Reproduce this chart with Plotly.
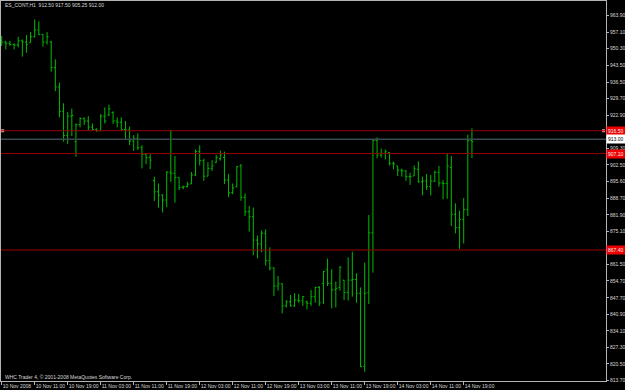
import plotly.graph_objects as go

# ---- data (ES_CONT, H1) ----
bar_index = list(range(115))
opens = [953.5, 953.0, 952.5, 952.0, 951.8, 953.5, 953.0, 952.7, 955.2, 958.0,
         956.2, 953.0, 953.0, 942.5, 934.5, 924.5, 914.5, 922.5, 912.0, 919.0,
         921.5, 920.5, 918.0, 917.0, 916.5, 922.5, 923.0, 924.0, 920.5, 920.0,
         917.0, 916.8, 912.3, 913.4, 909.5, 906.8, 905.4, 896.0, 891.4, 890.0,
         888.0, 899.5, 899.0, 897.3, 893.2, 893.5, 894.6, 898.3, 907.9, 904.2,
         897.8, 901.0, 903.5, 905.0, 905.5, 896.2, 891.0, 893.5, 902.0, 889.1,
         883.2, 881.1, 871.5, 869.9, 874.3, 863.0, 860.0, 852.6, 853.5, 844.4,
         846.1, 844.4, 846.8, 846.5, 846.1, 845.5, 848.2, 852.0, 853.7, 859.5,
         853.7, 851.0, 852.0, 855.0, 849.9, 855.0, 855.3, 849.6, 819.5, 849.9,
         874.5, 912.5, 906.5, 907.2, 907.5, 903.1, 902.0, 900.3, 900.0, 897.6,
         897.9, 900.6, 895.5, 895.8, 893.5, 895.8, 899.4, 895.0, 894.8, 901.4,
         882.1, 876.6, 880.0, 884.1, 912.5]
highs = [955.5, 953.5, 953.5, 952.5, 955.2, 954.1, 955.9, 957.1, 962.3, 961.5,
         956.3, 957.1, 953.5, 945.9, 936.3, 927.8, 924.2, 925.6, 919.5, 922.0,
         922.0, 922.5, 919.5, 917.5, 923.4, 926.1, 927.2, 924.5, 922.0, 922.0,
         920.5, 918.2, 914.7, 915.4, 910.6, 907.2, 906.8, 897.6, 894.8, 890.3,
         899.8, 916.8, 906.1, 897.3, 893.9, 895.5, 899.5, 908.8, 910.5, 905.0,
         903.6, 904.4, 906.6, 908.3, 907.9, 898.7, 894.8, 902.0, 902.8, 890.7,
         885.5, 884.9, 873.4, 875.5, 875.9, 868.5, 860.3, 856.7, 853.7, 846.8,
         848.9, 849.6, 849.3, 848.5, 846.6, 850.9, 852.3, 852.6, 858.9, 863.8,
         859.5, 854.4, 860.8, 855.1, 864.4, 866.7, 857.8, 852.0, 862.2, 881.8,
         912.9, 913.8, 909.1, 908.8, 907.7, 903.8, 902.0, 900.9, 900.3, 899.2,
         902.2, 903.9, 897.6, 898.7, 898.3, 900.1, 902.0, 896.2, 906.9, 906.1,
         886.6, 883.6, 888.8, 914.9, 917.5]
lows = [951.4, 950.0, 951.4, 950.0, 950.8, 947.0, 948.6, 952.7, 954.9, 955.9,
        951.1, 952.0, 940.8, 932.8, 922.0, 912.0, 911.0, 914.3, 905.8, 917.9,
        918.9, 916.8, 916.5, 916.1, 916.5, 919.5, 922.5, 919.3, 917.9, 916.5,
        913.0, 910.6, 908.2, 908.6, 901.0, 902.7, 900.7, 887.6, 884.8, 882.9,
        885.0, 895.5, 886.9, 892.1, 892.4, 893.2, 894.6, 897.8, 902.2, 895.9,
        897.8, 900.0, 903.3, 904.2, 894.6, 889.1, 890.4, 893.2, 887.7, 881.4,
        875.0, 865.3, 864.0, 866.5, 861.0, 859.0, 848.5, 850.7, 841.3, 843.8,
        844.1, 844.1, 845.7, 844.4, 843.0, 844.4, 845.7, 844.4, 845.2, 852.6,
        843.4, 843.8, 850.7, 846.8, 846.6, 848.2, 845.7, 819.2, 817.3, 845.2,
        858.1, 905.1, 905.5, 904.7, 902.2, 900.6, 897.9, 897.6, 895.9, 894.2,
        897.9, 895.1, 889.9, 892.1, 889.9, 895.4, 893.5, 888.3, 888.5, 877.3,
        874.3, 867.9, 870.1, 881.4, 905.25]
closes = [953.0, 952.5, 952.0, 951.8, 953.5, 953.0, 952.0, 955.2, 958.0, 956.2,
          953.0, 955.2, 942.5, 934.5, 924.5, 914.5, 922.5, 922.8, 919.0, 921.5,
          920.5, 918.0, 917.0, 916.5, 922.5, 920.5, 925.5, 920.5, 920.0, 917.0,
          916.8, 912.3, 913.4, 909.5, 906.8, 905.4, 904.4, 891.4, 890.0, 888.0,
          899.5, 899.0, 897.3, 893.2, 893.5, 894.5, 898.3, 907.9, 904.2, 897.8,
          901.0, 902.0, 905.5, 906.5, 896.2, 891.0, 893.0, 901.7, 889.1, 883.2,
          881.1, 871.5, 869.9, 874.3, 863.0, 860.0, 852.6, 853.5, 844.4, 846.1,
          844.4, 846.8, 846.5, 848.2, 845.5, 848.2, 852.0, 845.7, 858.5, 853.7,
          851.0, 851.6, 860.3, 849.9, 855.0, 855.3, 849.6, 819.5, 849.6, 874.5,
          912.5, 906.5, 907.2, 907.9, 903.1, 902.8, 900.3, 900.0, 897.6, 897.6,
          900.9, 895.5, 895.8, 893.5, 895.8, 899.4, 895.0, 894.8, 902.0, 882.1,
          876.6, 880.0, 884.0, 912.4, 912.0]

x_tick_bars = [0, 8, 16, 24, 32, 40, 48, 56, 64, 72, 80, 88, 96, 104, 112]
x_tick_labels = ["10 Nov 2008", "10 Nov 11:00", "10 Nov 19:00", "11 Nov 03:00",
                 "11 Nov 11:00", "11 Nov 19:00", "12 Nov 03:00", "12 Nov 11:00",
                 "12 Nov 19:00", "13 Nov 03:00", "13 Nov 11:00", "13 Nov 19:00",
                 "14 Nov 03:00", "14 Nov 11:00", "14 Nov 19:00"]
y_ticks = [963.90, 957.10, 950.30, 943.50, 936.50, 929.70, 922.90, 909.30,
           902.50, 895.60, 888.70, 881.90, 875.10, 861.50, 854.70, 847.70,
           840.90, 834.10, 827.30, 820.50, 813.70]
red_levels = [916.50, 907.10, 867.40]
bid_level = 913.00
title_text = "ES_CONT,H1  912.50 917.50 905.25 912.00"
copyright_text = "WHC Trader 4, \u00a9 2001-2008 MetaQuotes Software Corp."

# ---- styling ----
GREEN = "#00bc00"
AXIS = "#b4b4b4"
TXT = "#d8d8d8"
FONT = "Liberation Sans, Arial, sans-serif"
FS = 5
X_RANGE = [-0.17, 146.5]
Y_RANGE = [813.5, 969.9]

fig = go.Figure()
fig.add_trace(go.Ohlc(
    x=bar_index, open=opens, high=highs, low=lows, close=closes,
    increasing=dict(line=dict(color=GREEN, width=1)),
    decreasing=dict(line=dict(color=GREEN, width=1)),
    tickwidth=0.35, hoverinfo="skip", showlegend=False))

shapes = []
for lv in red_levels:
    shapes.append(dict(type="line", xref="paper", x0=0, x1=1, yref="y", y0=lv, y1=lv,
                       line=dict(color="#9a0000", width=1)))
shapes.append(dict(type="line", xref="paper", x0=0, x1=1, yref="y", y0=bid_level, y1=bid_level,
                   line=dict(color="#3a4850", width=1.5)))

annotations = []
for lv in red_levels:
    annotations.append(dict(xref="paper", x=1.0, yref="y", y=lv, text=f"{lv:.2f}",
                            showarrow=False, xanchor="left", yanchor="middle",
                            bgcolor="#ee0000", borderpad=1, xshift=0,
                            font=dict(family=FONT, size=FS, color="#f0f0f0")))
annotations.append(dict(xref="paper", x=1.0, yref="y", y=bid_level, text=f"{bid_level:.2f}",
                        showarrow=False, xanchor="left", yanchor="middle",
                        bgcolor="#ffffff", borderpad=1, xshift=0,
                        font=dict(family=FONT, size=FS, color="#000000")))
annotations.append(dict(xref="paper", x=0.004, yref="paper", y=1.0, text=title_text,
                        showarrow=False, xanchor="left", yanchor="top", yshift=1,
                        font=dict(family=FONT, size=FS, color=TXT)))
annotations.append(dict(xref="paper", x=0.004, yref="paper", y=0.0, text=copyright_text,
                        showarrow=False, xanchor="left", yanchor="bottom", yshift=-1,
                        font=dict(family=FONT, size=FS, color=TXT)))

# small selection markers on the 916.50 line
fig.add_trace(go.Scatter(x=[X_RANGE[0] + 0.4, X_RANGE[1] - 0.6], y=[red_levels[0]] * 2,
                         mode="markers", marker=dict(symbol="square", size=3, color="#ff9a9a"),
                         hoverinfo="skip", showlegend=False))

fig.update_layout(
    width=625, height=390,
    margin=dict(l=1, r=19, t=1, b=9),
    paper_bgcolor="#000000", plot_bgcolor="#000000",
    shapes=shapes, annotations=annotations,
    font=dict(family=FONT, size=FS, color=TXT),
    xaxis=dict(range=X_RANGE, rangeslider=dict(visible=False), showgrid=False, zeroline=False,
               automargin=False, tickangle=0,
               showline=True, linecolor=AXIS, linewidth=1, mirror=True,
               tickmode="array", tickvals=x_tick_bars, ticktext=x_tick_labels,
               ticks="outside", ticklen=3, tickcolor=AXIS, ticklabelposition="outside right",
               tickfont=dict(family=FONT, size=FS, color=TXT)),
    yaxis=dict(range=Y_RANGE, side="right", showgrid=False, zeroline=False,
               automargin=False,
               showline=True, linecolor=AXIS, linewidth=1, mirror=True,
               tickmode="array", tickvals=y_ticks, ticktext=[f"{v:.2f}" for v in y_ticks],
               ticks="outside", ticklen=2, tickcolor=AXIS,
               tickfont=dict(family=FONT, size=FS, color=TXT)),
)

fig.write_html("out.html")
